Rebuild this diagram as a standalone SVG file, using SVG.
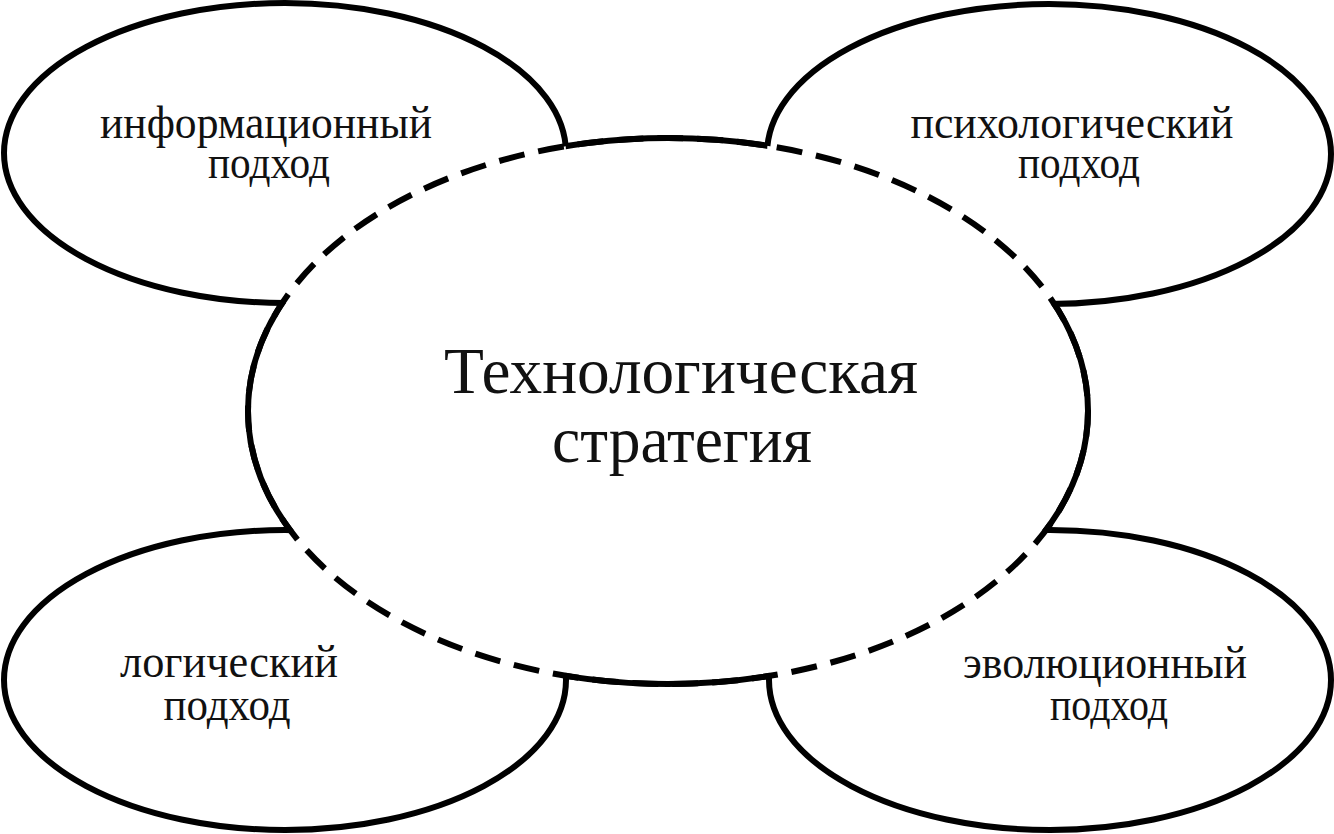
<svg xmlns="http://www.w3.org/2000/svg" width="1334" height="834" viewBox="0 0 1334 834">
<style>
.outer{fill:#fff;stroke:#000;stroke-width:6}
.lbl{font-family:"Liberation Serif","Times New Roman",serif;font-size:47px;fill:#111;text-anchor:middle}
.big{font-family:"Liberation Serif","Times New Roman",serif;font-size:65px;fill:#111;text-anchor:middle}
</style>
<defs>
<clipPath id="outsideClip">
<path clip-rule="evenodd" d="M-10,-10 H1344 V844 H-10 Z
M4,153 a281,150 0 1,0 562,0 a281,150 0 1,0 -562,0 Z
M767,154 a282,150 0 1,0 564,0 a282,150 0 1,0 -564,0 Z
M4,680 a281,150 0 1,0 562,0 a281,150 0 1,0 -562,0 Z
M769,680 a281,150 0 1,0 562,0 a281,150 0 1,0 -562,0 Z"/>
</clipPath>
</defs>
<rect x="0" y="0" width="1334" height="834" fill="#fff"/>
<g id="info">
<ellipse class="outer" cx="285" cy="153" rx="281" ry="150"/>
<text class="lbl" x="266" y="138" textLength="332" lengthAdjust="spacingAndGlyphs">информационный</text>
<text class="lbl" x="269" y="178" textLength="122" lengthAdjust="spacingAndGlyphs">подход</text>
</g>
<g id="psych">
<ellipse class="outer" cx="1049" cy="154" rx="282" ry="150"/>
<text class="lbl" x="1072" y="138" textLength="323" lengthAdjust="spacingAndGlyphs">психологический</text>
<text class="lbl" x="1079" y="178" textLength="122" lengthAdjust="spacingAndGlyphs">подход</text>
</g>
<g id="logic">
<ellipse class="outer" cx="285" cy="680" rx="281" ry="150"/>
<text class="lbl" x="229" y="677" textLength="218" lengthAdjust="spacingAndGlyphs">логический</text>
<text class="lbl" x="227" y="720" textLength="127" lengthAdjust="spacingAndGlyphs">подход</text>
</g>
<g id="evol">
<ellipse class="outer" cx="1050" cy="680" rx="281" ry="150"/>
<text class="lbl" x="1105" y="678" textLength="284" lengthAdjust="spacingAndGlyphs">эволюционный</text>
<text class="lbl" x="1109" y="720" textLength="118" lengthAdjust="spacingAndGlyphs">подход</text>
</g>
<g id="center">
<ellipse cx="668" cy="411" rx="420" ry="273" fill="#fff" stroke="#000" stroke-width="6" stroke-dasharray="26 14"/>
<g clip-path="url(#outsideClip)">
<ellipse cx="668" cy="411" rx="420" ry="273" fill="none" stroke="#000" stroke-width="6"/>
</g>
<text class="big" x="681" y="393" textLength="474" lengthAdjust="spacingAndGlyphs">Технологическая</text>
<text class="big" x="682" y="462" textLength="260" lengthAdjust="spacingAndGlyphs">стратегия</text>
</g>
<g id="connectors"/>
</svg>
